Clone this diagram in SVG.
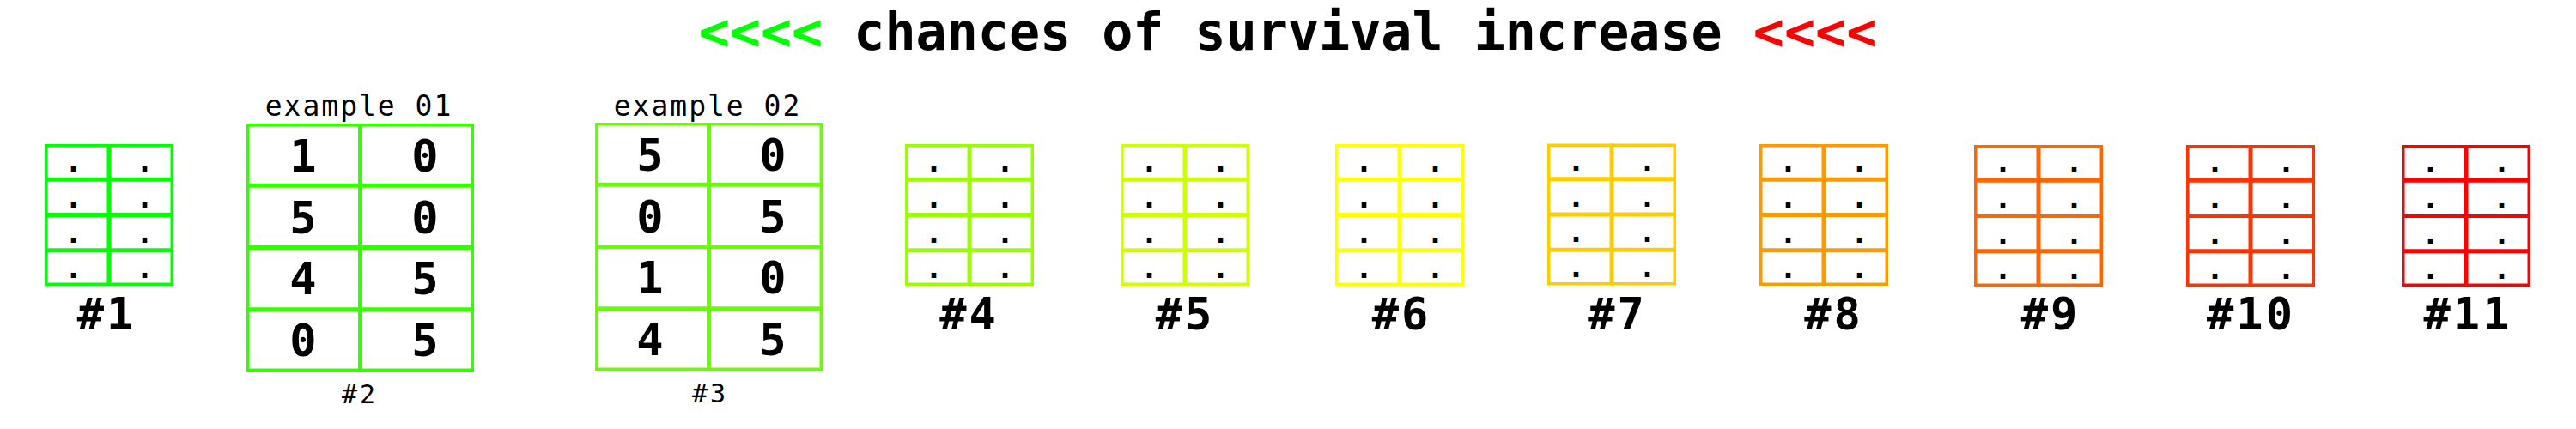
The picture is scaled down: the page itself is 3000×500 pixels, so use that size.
<svg xmlns="http://www.w3.org/2000/svg" width="3000" height="500" viewBox="0 0 3000 500">
<style>
text{font-family:"DejaVu Sans Mono","Liberation Mono",monospace;fill:#000;stroke:none}
.title{font-size:60px;font-weight:bold;text-anchor:middle}
.g{fill:#00ff00}.r{fill:#ff0000}
.frame{fill:#fff;stroke-width:3.5}
.div{stroke-width:5}
.dot{font-size:34px;font-weight:bold;text-anchor:middle}
.num{font-size:52px;font-weight:bold;text-anchor:middle}
.lbl{font-size:52px;font-weight:bold;text-anchor:middle;letter-spacing:3px}
.cap{font-size:33px;text-anchor:middle;letter-spacing:2px}
.sub{font-size:30px;text-anchor:middle;letter-spacing:3px}
.c1{stroke:#00ff00}.c2{stroke:#33ff00}.c3{stroke:#66ff00}.c4{stroke:#99ff00}.c5{stroke:#ccff00}.c6{stroke:#ffff00}.c7{stroke:#ffcc00}.c8{stroke:#ff9900}.c9{stroke:#ff6600}.c10{stroke:#ff3300}.c11{stroke:#ff0000}
</style>
<defs>
<g id="small">
<rect class="frame" x="1.75" y="1.75" width="146.5" height="161.5"/>
<line class="div" x1="0" y1="41.25" x2="150" y2="41.25"/>
<line class="div" x1="0" y1="82.5" x2="150" y2="82.5"/>
<line class="div" x1="0" y1="123.75" x2="150" y2="123.75"/>
<line class="div" x1="75" y1="0" x2="75" y2="165"/>
<text class="dot" x="33.5" y="31.5">.</text><text class="dot" x="116.5" y="31.5">.</text>
<text class="dot" x="33.5" y="73.5">.</text><text class="dot" x="116.5" y="73.5">.</text>
<text class="dot" x="33.5" y="114.5">.</text><text class="dot" x="116.5" y="114.5">.</text>
<text class="dot" x="33.5" y="155.5">.</text><text class="dot" x="116.5" y="155.5">.</text>
</g>
<g id="bigframe">
<rect class="frame" x="1.75" y="1.75" width="261.5" height="285.5"/>
<line class="div" x1="0" y1="72.25" x2="265" y2="72.25"/>
<line class="div" x1="0" y1="144.5" x2="265" y2="144.5"/>
<line class="div" x1="0" y1="216.75" x2="265" y2="216.75"/>
<line class="div" x1="132.5" y1="0" x2="132.5" y2="289"/>
</g>
</defs>

<g id="title">
<text class="title" x="1500" y="58"><tspan class="g">&lt;&lt;&lt;&lt; </tspan>chances of survival increase<tspan class="r"> &lt;&lt;&lt;&lt;</tspan></text>
</g>

<g id="node1">
<use href="#small" class="c1" x="52" y="168"/>
<text class="lbl" x="124" y="383.5">#1</text>
</g>

<g id="node2">
<text class="cap" x="418" y="135">example 01</text>
<use href="#bigframe" class="c2" x="287" y="144"/>
<text class="num" x="353" y="200">1</text><text class="num" x="495" y="200">0</text>
<text class="num" x="353" y="272">5</text><text class="num" x="495" y="272">0</text>
<text class="num" x="353" y="343">4</text><text class="num" x="495" y="343">5</text>
<text class="num" x="353" y="415">0</text><text class="num" x="495" y="415">5</text>
<text class="sub" x="419" y="469.5">#2</text>
</g>

<g id="node3">
<text class="cap" x="824" y="135">example 02</text>
<use href="#bigframe" class="c3" x="693" y="143"/>
<text class="num" x="757" y="199">5</text><text class="num" x="900" y="199">0</text>
<text class="num" x="757" y="271">0</text><text class="num" x="900" y="271">5</text>
<text class="num" x="757" y="342">1</text><text class="num" x="900" y="342">0</text>
<text class="num" x="757" y="414">4</text><text class="num" x="900" y="414">5</text>
<text class="sub" x="827" y="469">#3</text>
</g>

<g id="node4">
<use href="#small" class="c4" x="1054" y="168"/>
<text class="lbl" x="1128.5" y="383.5">#4</text>
</g>
<g id="node5">
<use href="#small" class="c5" x="1305" y="168"/>
<text class="lbl" x="1380" y="383.5">#5</text>
</g>
<g id="node6">
<use href="#small" class="c6" x="1555" y="168"/>
<text class="lbl" x="1632" y="383.5">#6</text>
</g>
<g id="node7">
<use href="#small" class="c7" x="1802" y="167.5"/>
<text class="lbl" x="1883.5" y="383.5">#7</text>
</g>
<g id="node8">
<use href="#small" class="c8" x="2049" y="168"/>
<text class="lbl" x="2135.5" y="383.5">#8</text>
</g>
<g id="node9">
<use href="#small" class="c9" x="2299" y="169"/>
<text class="lbl" x="2388" y="383.5">#9</text>
</g>
<g id="node10">
<use href="#small" class="c10" x="2546" y="169"/>
<text class="lbl" x="2621.5" y="383.5">#10</text>
</g>
<g id="node11">
<use href="#small" class="c11" x="2797" y="169"/>
<text class="lbl" x="2874" y="383.5">#11</text>
</g>
</svg>
